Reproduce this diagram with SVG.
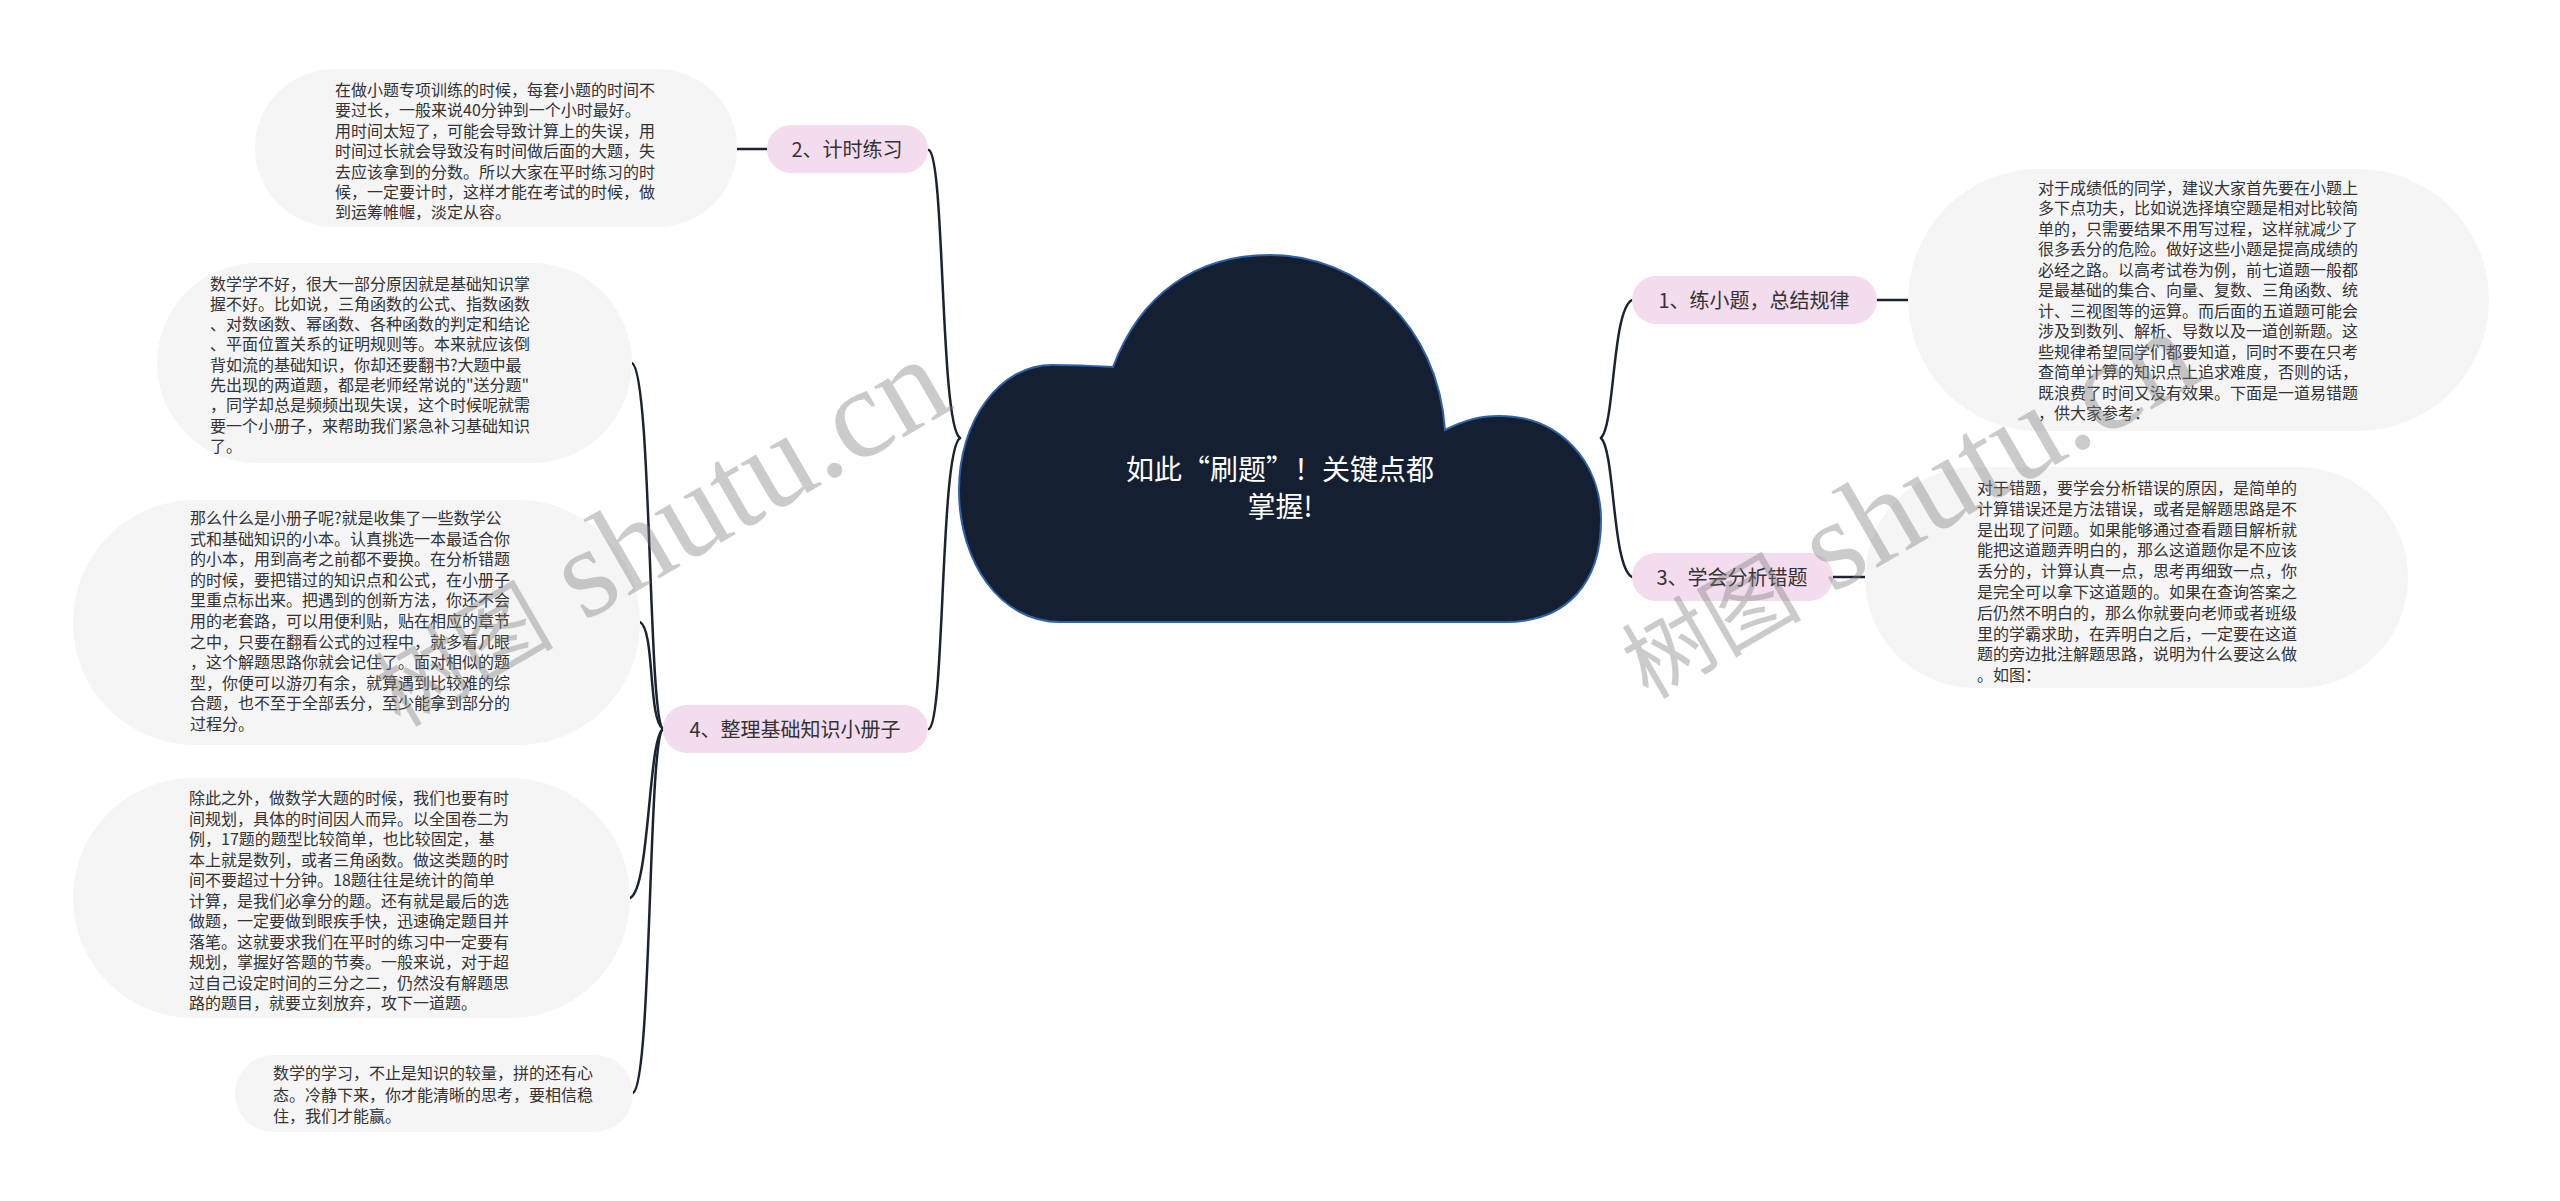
<svg xmlns="http://www.w3.org/2000/svg" width="2560" height="1201" viewBox="0 0 2560 1201">
<style>
.bub{fill:#f5f5f5}
.pill{fill:#f2dcee}
.t{font-family:"Noto Sans CJK SC","Noto Sans",sans-serif;font-size:16px;fill:#333}
.nt{font-family:"Noto Sans CJK SC","Noto Sans",sans-serif;font-size:20px;fill:#333;text-anchor:middle}
.title{font-family:"Noto Sans CJK SC","Noto Sans",sans-serif;font-size:28px;fill:#ffffff;text-anchor:middle}
.c{fill:none;stroke:#1b2230;stroke-width:2.5;stroke-linecap:round}
.wm{fill:#808080;opacity:0.4}
.wmc{font-family:"Noto Sans CJK SC",sans-serif;font-size:90px}
.wml{font-family:"Liberation Serif",serif;font-size:128px}
</style>
<rect width="2560" height="1201" fill="#ffffff"/>
<g id="connectors">
<path class="c" d="M960,438 C940,425 945,160 929,150"/>
<path class="c" d="M960,438 C940,451 945,719 929,729"/>
<path class="c" d="M1601,438 C1615,425 1612,310 1632,300"/>
<path class="c" d="M1601,438 C1615,451 1612,567 1632,577"/>
<path class="c" d="M767,149 L737,149"/>
<path class="c" d="M1877,300 L1908,300"/>
<path class="c" d="M1833,577 L1866,577"/>
<path class="c" d="M663,729 C648,720 652,373 632,363"/>
<path class="c" d="M663,729 C648,720 655,630 640,622"/>
<path class="c" d="M663,729 C648,738 650,890 630,898"/>
<path class="c" d="M663,729 C648,738 652,1083 633,1093"/>
</g>
<g id="root">
<path d="M1113,367 C1140,295 1195,255 1270,255 C1360,255 1438,325 1445,430 C1465,420 1480,416 1499,416 C1560,416 1601,462 1601,520 C1601,582 1568,622 1505,622 L1060,622 C1000,622 959,562 959,490 C959,420 1000,365 1052,365 C1075,365 1095,366 1113,367 Z" fill="#142032" stroke="#2f62a8" stroke-width="2"/>
<text class="title" x="1280" y="480">如此“刷题”！关键点都</text>
<text class="title" x="1280" y="517">掌握!</text>
</g>
<g id="n1">
<rect class="pill" x="1632" y="276" width="245" height="48" rx="24"/>
<text class="nt" x="1754" y="307.5">1、练小题，总结规律</text>
</g>
<g id="n2">
<rect class="pill" x="767" y="125" width="161" height="48" rx="24"/>
<text class="nt" x="847" y="156.5">2、计时练习</text>
</g>
<g id="n3">
<rect class="pill" x="1632" y="553" width="201" height="48" rx="24"/>
<text class="nt" x="1732" y="584.5">3、学会分析错题</text>
</g>
<g id="n4">
<rect class="pill" x="663" y="705" width="265" height="48" rx="24"/>
<text class="nt" x="795" y="736.5">4、整理基础知识小册子</text>
</g>
<g id="d1">
<rect class="bub" x="1908" y="169" width="581" height="262" rx="131"/>
<text class="t" x="2038" y="194">
<tspan x="2038" dy="0">对于成绩低的同学，建议大家首先要在小题上</tspan>
<tspan x="2038" dy="20.45">多下点功夫，比如说选择填空题是相对比较简</tspan>
<tspan x="2038" dy="20.45">单的，只需要结果不用写过程，这样就减少了</tspan>
<tspan x="2038" dy="20.45">很多丢分的危险。做好这些小题是提高成绩的</tspan>
<tspan x="2038" dy="20.45">必经之路。以高考试卷为例，前七道题一般都</tspan>
<tspan x="2038" dy="20.45">是最基础的集合、向量、复数、三角函数、统</tspan>
<tspan x="2038" dy="20.45">计、三视图等的运算。而后面的五道题可能会</tspan>
<tspan x="2038" dy="20.45">涉及到数列、解析、导数以及一道创新题。这</tspan>
<tspan x="2038" dy="20.45">些规律希望同学们都要知道，同时不要在只考</tspan>
<tspan x="2038" dy="20.45">查简单计算的知识点上追求难度，否则的话，</tspan>
<tspan x="2038" dy="20.45">既浪费了时间又没有效果。下面是一道易错题</tspan>
<tspan x="2038" dy="20.45">，供大家参考：</tspan>
</text>
</g>
<g id="d2">
<rect class="bub" x="255" y="69" width="482" height="158" rx="79"/>
<text class="t" x="335" y="96">
<tspan x="335" dy="0">在做小题专项训练的时候，每套小题的时间不</tspan>
<tspan x="335" dy="20.4">要过长，一般来说40分钟到一个小时最好。</tspan>
<tspan x="335" dy="20.4">用时间太短了，可能会导致计算上的失误，用</tspan>
<tspan x="335" dy="20.4">时间过长就会导致没有时间做后面的大题，失</tspan>
<tspan x="335" dy="20.4">去应该拿到的分数。所以大家在平时练习的时</tspan>
<tspan x="335" dy="20.4">候，一定要计时，这样才能在考试的时候，做</tspan>
<tspan x="335" dy="20.4">到运筹帷幄，淡定从容。</tspan>
</text>
</g>
<g id="d3">
<rect class="bub" x="1865" y="467" width="543" height="221" rx="110"/>
<text class="t" x="1977" y="494">
<tspan x="1977" dy="0">对于错题，要学会分析错误的原因，是简单的</tspan>
<tspan x="1977" dy="20.8">计算错误还是方法错误，或者是解题思路是不</tspan>
<tspan x="1977" dy="20.8">是出现了问题。如果能够通过查看题目解析就</tspan>
<tspan x="1977" dy="20.8">能把这道题弄明白的，那么这道题你是不应该</tspan>
<tspan x="1977" dy="20.8">丢分的，计算认真一点，思考再细致一点，你</tspan>
<tspan x="1977" dy="20.8">是完全可以拿下这道题的。如果在查询答案之</tspan>
<tspan x="1977" dy="20.8">后仍然不明白的，那么你就要向老师或者班级</tspan>
<tspan x="1977" dy="20.8">里的学霸求助，在弄明白之后，一定要在这道</tspan>
<tspan x="1977" dy="20.8">题的旁边批注解题思路，说明为什么要这么做</tspan>
<tspan x="1977" dy="20.8">。如图：</tspan>
</text>
</g>
<g id="d4a">
<rect class="bub" x="157" y="263" width="475" height="200" rx="100"/>
<text class="t" x="210" y="289.5">
<tspan x="210" dy="0">数学学不好，很大一部分原因就是基础知识掌</tspan>
<tspan x="210" dy="20.3">握不好。比如说，三角函数的公式、指数函数</tspan>
<tspan x="210" dy="20.3">、对数函数、幂函数、各种函数的判定和结论</tspan>
<tspan x="210" dy="20.3">、平面位置关系的证明规则等。本来就应该倒</tspan>
<tspan x="210" dy="20.3">背如流的基础知识，你却还要翻书?大题中最</tspan>
<tspan x="210" dy="20.3">先出现的两道题，都是老师经常说的"送分题"</tspan>
<tspan x="210" dy="20.3">，同学却总是频频出现失误，这个时候呢就需</tspan>
<tspan x="210" dy="20.3">要一个小册子，来帮助我们紧急补习基础知识</tspan>
<tspan x="210" dy="20.3">了。</tspan>
</text>
</g>
<g id="d4b">
<rect class="bub" x="73" y="500" width="567" height="245" rx="122"/>
<text class="t" x="190" y="524">
<tspan x="190" dy="0">那么什么是小册子呢?就是收集了一些数学公</tspan>
<tspan x="190" dy="20.6">式和基础知识的小本。认真挑选一本最适合你</tspan>
<tspan x="190" dy="20.6">的小本，用到高考之前都不要换。在分析错题</tspan>
<tspan x="190" dy="20.6">的时候，要把错过的知识点和公式，在小册子</tspan>
<tspan x="190" dy="20.6">里重点标出来。把遇到的创新方法，你还不会</tspan>
<tspan x="190" dy="20.6">用的老套路，可以用便利贴，贴在相应的章节</tspan>
<tspan x="190" dy="20.6">之中，只要在翻看公式的过程中，就多看几眼</tspan>
<tspan x="190" dy="20.6">，这个解题思路你就会记住了。面对相似的题</tspan>
<tspan x="190" dy="20.6">型，你便可以游刃有余，就算遇到比较难的综</tspan>
<tspan x="190" dy="20.6">合题，也不至于全部丢分，至少能拿到部分的</tspan>
<tspan x="190" dy="20.6">过程分。</tspan>
</text>
</g>
<g id="d4c">
<rect class="bub" x="73" y="778" width="557" height="240" rx="120"/>
<text class="t" x="189" y="804">
<tspan x="189" dy="0">除此之外，做数学大题的时候，我们也要有时</tspan>
<tspan x="189" dy="20.5">间规划，具体的时间因人而异。以全国卷二为</tspan>
<tspan x="189" dy="20.5">例，17题的题型比较简单，也比较固定，基</tspan>
<tspan x="189" dy="20.5">本上就是数列，或者三角函数。做这类题的时</tspan>
<tspan x="189" dy="20.5">间不要超过十分钟。18题往往是统计的简单</tspan>
<tspan x="189" dy="20.5">计算，是我们必拿分的题。还有就是最后的选</tspan>
<tspan x="189" dy="20.5">做题，一定要做到眼疾手快，迅速确定题目并</tspan>
<tspan x="189" dy="20.5">落笔。这就要求我们在平时的练习中一定要有</tspan>
<tspan x="189" dy="20.5">规划，掌握好答题的节奏。一般来说，对于超</tspan>
<tspan x="189" dy="20.5">过自己设定时间的三分之二，仍然没有解题思</tspan>
<tspan x="189" dy="20.5">路的题目，就要立刻放弃，攻下一道题。</tspan>
</text>
</g>
<g id="d4d">
<rect class="bub" x="235" y="1055" width="398" height="77" rx="38.5"/>
<text class="t" x="273" y="1079">
<tspan x="273" dy="0">数学的学习，不止是知识的较量，拼的还有心</tspan>
<tspan x="273" dy="21.5">态。冷静下来，你才能清晰的思考，要相信稳</tspan>
<tspan x="273" dy="21.5">住，我们才能赢。</tspan>
</text>
</g>
<g id="watermark">
<text class="wm" transform="translate(400,728) rotate(-30)"><tspan class="wmc">树图</tspan><tspan class="wml"> shutu.cn</tspan></text>
<text class="wm" transform="translate(1648,700) rotate(-30)"><tspan class="wmc">树图</tspan><tspan class="wml"> shutu.cn</tspan></text>
</g>
</svg>
